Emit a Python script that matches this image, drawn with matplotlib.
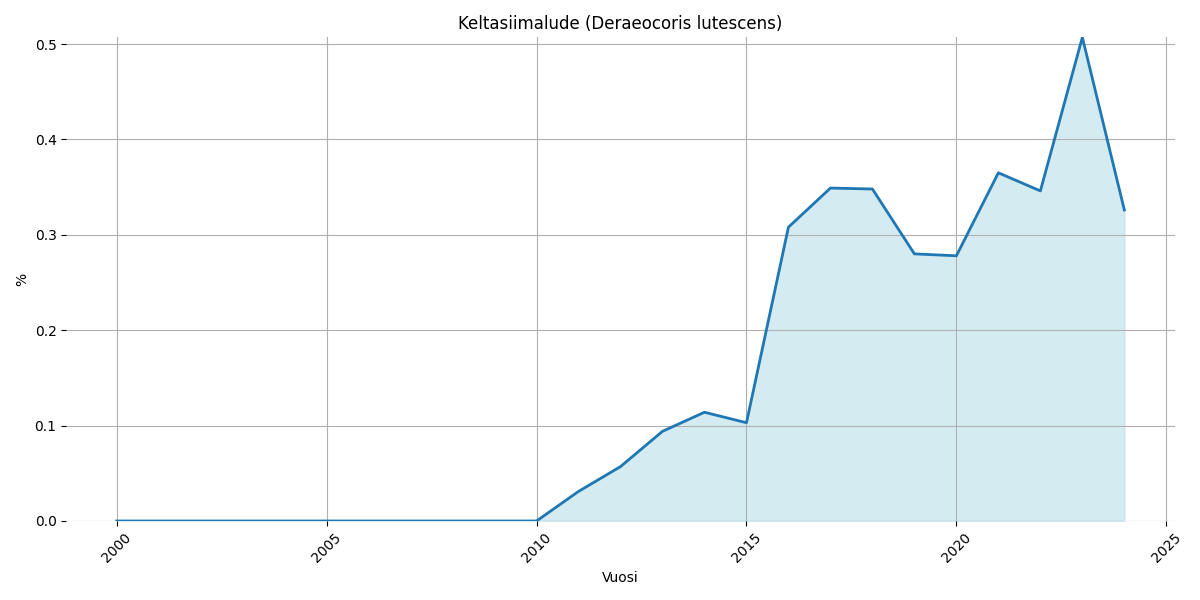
import matplotlib
matplotlib.use('Agg')
import matplotlib.pyplot as plt

# data
years = list(range(2000, 2025))
values = [0, 0, 0, 0, 0, 0, 0, 0, 0, 0, 0,
          0.031, 0.057, 0.094, 0.114, 0.103, 0.308, 0.349, 0.348,
          0.280, 0.278, 0.365, 0.346, 0.507, 0.326]

fig, ax = plt.subplots(figsize=(12, 6), dpi=100)
ax.fill_between(years, values, color="lightblue", alpha=0.5)
ax.plot(years, values, color="#1f77b4", linewidth=2)

ax.set_ylim(0, max(values))
ax.set_title("Keltasiimalude (Deraeocoris lutescens)")
ax.set_xlabel("Vuosi")
ax.set_ylabel("%")
ax.grid(True)
for s in ax.spines.values():
    s.set_visible(False)
plt.xticks(rotation=45)

plt.tight_layout()
plt.savefig("out.png")
plt.close()
